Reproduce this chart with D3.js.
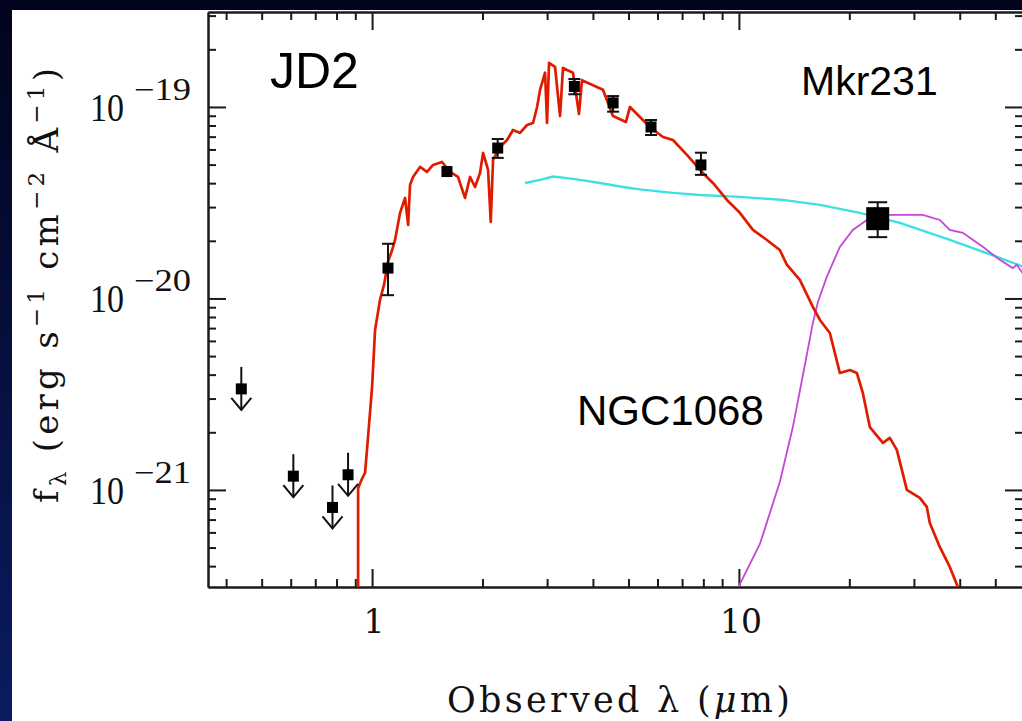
<!DOCTYPE html>
<html>
<head>
<meta charset="utf-8">
<script src="https://cdnjs.cloudflare.com/ajax/libs/d3/7.8.5/d3.min.js"></script>
<style>
body { margin: 0; background: #020826; overflow: hidden; }
</style>
</head>
<body>
<div id="placeholder"></div>
<script>
// photometry: wavelength (micron), f_lambda (erg s-1 cm-2 A-1)
var detWave = [1.105, 1.60, 2.20, 3.56, 4.54, 5.76, 7.88]
var detFlux = [1.44e-20, 4.6e-20, 6.1e-20, 1.28e-19, 1.05e-19, 7.86e-20, 4.98e-20]
var detLow = [1.04e-20, 4.6e-20, 5.42e-20, 1.165e-19, 9.45e-20, 7.14e-20, 4.42e-20]
var detHigh = [1.93e-20, 4.6e-20, 6.8e-20, 1.40e-19, 1.14e-19, 8.55e-20, 5.77e-20]

var mipsWave = [23.9]
var mipsFlux = [2.61e-20]
var mipsLow = [2.09e-20]
var mipsHigh = [3.18e-20]

var limWave = [0.44, 0.61, 0.78, 0.86]
var limFlux = [3.37e-21, 1.18e-21, 8.1e-22, 1.2e-21]

// stellar template (red)
var stellarWave = [0.916, 0.916, 0.936, 0.957, 0.975, 1.000, 1.019, 1.051, 1.078, 1.105,
    1.134, 1.155, 1.192, 1.230, 1.254, 1.269, 1.293, 1.351, 1.412, 1.466,
    1.551, 1.632, 1.715, 1.792, 1.849, 1.908, 1.969, 2.007, 2.071, 2.106,
    2.137, 2.233, 2.333, 2.422, 2.531, 2.645, 2.747, 2.817, 2.871, 2.962,
    2.999, 3.037, 3.153, 3.254, 3.315, 3.399, 3.529, 3.665, 3.734, 4.002,
    4.260, 4.536, 4.921, 5.047, 5.373, 5.721, 6.209, 6.610, 7.216, 7.978,
    8.495, 9.276, 10.06, 10.92, 11.92, 12.93, 13.51, 14.66, 15.91, 16.63,
    17.70, 18.85, 20.07, 20.97, 21.77, 22.75, 24.69, 25.79, 26.95, 28.70,
    31.13, 32.53, 33.15, 35.29, 37.58, 39.51, 40.52]
var stellarFlux = [2.0e-22, 1.02e-21, 1.13e-21, 1.23e-21, 1.89e-21, 3.45e-21, 6.85e-21, 9.82e-21, 1.18e-20, 1.55e-20,
    1.79e-20, 2.02e-20, 2.80e-20, 3.35e-20, 2.42e-20, 3.91e-20, 4.31e-20, 4.86e-20, 4.58e-20, 4.98e-20,
    5.16e-20, 4.58e-20, 4.31e-20, 3.35e-20, 4.31e-20, 3.82e-20, 4.52e-20, 5.75e-20, 4.69e-20, 2.51e-20,
    5.29e-20, 6.18e-20, 6.72e-20, 7.58e-20, 7.32e-20, 8.05e-20, 8.25e-20, 1.00e-19, 1.23e-19, 1.51e-19,
    8.25e-20, 1.70e-19, 1.62e-19, 8.97e-20, 1.60e-19, 1.56e-19, 1.51e-19, 9.19e-20, 1.38e-19, 1.30e-19,
    1.23e-19, 8.97e-20, 8.35e-20, 1.00e-19, 8.87e-20, 7.86e-20, 6.97e-20, 6.72e-20, 5.62e-20, 4.52e-20,
    4.01e-20, 3.27e-20, 2.80e-20, 2.28e-20, 2.02e-20, 1.79e-20, 1.50e-20, 1.25e-20, 9.03e-21, 7.72e-21,
    6.60e-21, 4.08e-21, 4.23e-21, 4.08e-21, 3.21e-21, 2.13e-21, 1.76e-21, 1.87e-21, 1.62e-21, 1.00e-21,
    9.08e-22, 8.15e-22, 6.72e-22, 5.04e-22, 3.96e-22, 3.12e-22, 2.67e-22]

// Mkr231 template (cyan)
var mrkWave = [2.612, 2.871, 3.112, 3.357, 3.689, 4.181, 4.830, 5.373, 6.610, 7.829, 10.06, 13.18, 16.63, 21.36, 27.47, 37.58, 51.42, 59.79]
var mrkFlux = [4.01e-20, 4.16e-20, 4.33e-20, 4.26e-20, 4.16e-20, 4.01e-20, 3.82e-20, 3.71e-20, 3.56e-20, 3.47e-20, 3.39e-20, 3.27e-20, 3.08e-20, 2.80e-20, 2.48e-20, 2.02e-20, 1.63e-20, 1.46e-20]

// NGC1068 template (magenta)
var ngcWave = [9.813, 9.98, 11.41, 12.93, 14.03, 15.13, 15.91, 16.42, 17.37, 18.85, 20.44, 22.33, 23.90, 25.79, 31.72, 35.29, 37.58, 40.78, 46.23, 51.42, 55.80, 57.22, 59.79]
var ngcFlux = [2.67e-22, 3.12e-22, 5.22e-22, 1.10e-21, 2.13e-21, 4.49e-21, 7.45e-21, 9.59e-21, 1.30e-20, 1.86e-20, 2.28e-20, 2.57e-20, 2.70e-20, 2.73e-20, 2.73e-20, 2.57e-20, 2.28e-20, 2.20e-20, 1.86e-20, 1.59e-20, 1.44e-20, 1.50e-20, 1.33e-20]

var xMajor = [1, 10]
var xMajorLabels = ["1", "10"]
var xMinor = [0.4, 0.5, 0.6, 0.7, 0.8, 0.9, 2, 3, 4, 5, 6, 7, 8, 9, 20, 30, 40, 50]
var yMajor = [1e-21, 1e-20, 1e-19]
var yMajorExp = ["\u221221", "\u221220", "\u221219"]
var yMinor = [4e-22, 5e-22, 6e-22, 7e-22, 8e-22, 9e-22,
    2e-21, 3e-21, 4e-21, 5e-21, 6e-21, 7e-21, 8e-21, 9e-21,
    2e-20, 3e-20, 4e-20, 5e-20, 6e-20, 7e-20, 8e-20, 9e-20,
    2e-19, 3e-19]

var W = 1022, H = 721
var pLeft = 208, pRight = 1023, pTop = 12, pBottom = 587

var svg = d3.select("#placeholder")
    .append("svg")
    .attr("width", W)
    .attr("height", H)
    .style("display", "block")

var defs = svg.append("defs")
var grad = defs.append("linearGradient").attr("id", "bg").attr("x1", 0).attr("y1", 0).attr("x2", 0).attr("y2", 1)
grad.append("stop").attr("offset", "0%").attr("stop-color", "#01041c")
grad.append("stop").attr("offset", "100%").attr("stop-color", "#0b1b60")
defs.append("clipPath").attr("id", "plotclip")
    .append("rect").attr("x", pLeft).attr("y", pTop).attr("width", pRight - pLeft).attr("height", pBottom - pTop)

svg.append("rect").attr("width", W).attr("height", H).attr("fill", "url(#bg)")
svg.append("rect").attr("x", 12).attr("y", 10).attr("width", W - 12).attr("height", H - 10).attr("fill", "white")

var x = d3.scaleLog().domain([0.357, 59.5]).range([pLeft, pRight])
var y = d3.scaleLog().domain([3.112e-22, 3.133e-19]).range([pBottom, pTop])

// axes: ticks point inward on all four sides
function styleAxis(g) {
    g.selectAll("line").attr("stroke", "#1a1a1a").attr("stroke-width", 2)
    g.selectAll("path").attr("stroke", "#1a1a1a").attr("stroke-width", 2)
    g.selectAll("text").remove()
}
var axes = [
    [d3.axisBottom(x), "translate(0," + pBottom + ")", xMajor, xMinor],
    [d3.axisTop(x), "translate(0," + pTop + ")", xMajor, xMinor],
    [d3.axisLeft(y), "translate(" + pLeft + ",0)", yMajor, yMinor],
    [d3.axisRight(y), "translate(" + pRight + ",0)", yMajor, yMinor]
]
axes.forEach(function (a) {
    svg.append("g").attr("transform", a[1])
        .call(a[0].tickValues(a[2]).tickSizeInner(-18).tickSizeOuter(0).tickFormat(""))
        .call(styleAxis)
    svg.append("g").attr("transform", a[1])
        .call(a[0].tickValues(a[3]).tickSizeInner(-8).tickSizeOuter(0).tickFormat(""))
        .call(styleAxis)
})

// tick labels
svg.selectAll()
    .data(xMajor)
    .enter()
    .append("text")
    .attr("x", function (d) { return x(d) + 2 })
    .attr("y", 633)
    .attr("text-anchor", "middle")
    .attr("font-family", "DejaVu Serif")
    .attr("font-size", "33px")
    .attr("fill", "#111")
    .text(function (d, i) { return xMajorLabels[i] })

svg.selectAll()
    .data(yMajor)
    .enter()
    .append("text")
    .attr("x", 90)
    .attr("y", function (d) { return y(d) + 14 })
    .attr("font-family", "Liberation Serif")
    .attr("font-size", "39px")
    .attr("textLength", 34)
    .attr("lengthAdjust", "spacingAndGlyphs")
    .attr("fill", "#111")
    .text("10")

svg.selectAll()
    .data(yMajor)
    .enter()
    .append("text")
    .attr("x", 134)
    .attr("y", function (d) { return y(d) - 7 })
    .attr("font-family", "Liberation Serif")
    .attr("font-size", "31px")
    .attr("textLength", 57)
    .attr("lengthAdjust", "spacingAndGlyphs")
    .attr("fill", "#111")
    .text(function (d, i) { return yMajorExp[i] })

// axis titles
var xt = svg.append("text")
    .attr("x", 447)
    .attr("y", 712)
    .attr("font-family", "DejaVu Serif")
    .attr("font-size", "35px")
    .attr("fill", "#111")
    .attr("textLength", 343)
    .attr("lengthAdjust", "spacing")
xt.append("tspan").text("Observed \u03bb (")
xt.append("tspan").attr("font-style", "italic").text("\u03bc")
xt.append("tspan").text("m)")

var yt = svg.append("text")
    .attr("transform", "translate(58,503) rotate(-90)")
    .attr("font-family", "DejaVu Serif")
    .attr("font-size", "34px")
    .attr("fill", "#111")
    .attr("textLength", 435)
    .attr("lengthAdjust", "spacing")
yt.append("tspan").text("f")
yt.append("tspan").attr("font-size", "23px").attr("dy", 8).text("\u03bb")
yt.append("tspan").attr("dy", -8).text(" (erg s")
yt.append("tspan").attr("font-size", "23px").attr("dy", -14).text("\u22121")
yt.append("tspan").attr("dy", 14).text(" cm")
yt.append("tspan").attr("font-size", "23px").attr("dy", -14).text("\u22122")
yt.append("tspan").attr("dy", 14).text(" \u00c5")
yt.append("tspan").attr("font-size", "23px").attr("dy", -14).text("\u22121")
yt.append("tspan").attr("dy", 14).text(")")

// model curves
var line = d3.line()
    .x(function (d) { return x(d[0]) })
    .y(function (d) { return y(d[1]) })

var curves = svg.append("g").attr("clip-path", "url(#plotclip)")
curves.append("path")
    .attr("d", line(d3.zip(mrkWave, mrkFlux)))
    .attr("fill", "none").attr("stroke", "#3fe0e2").attr("stroke-width", 2.4)
curves.append("path")
    .attr("d", line(d3.zip(ngcWave, ngcFlux)))
    .attr("fill", "none").attr("stroke", "#c447d6").attr("stroke-width", 1.8)
curves.append("path")
    .attr("d", line(d3.zip(stellarWave, stellarFlux)))
    .attr("fill", "none").attr("stroke", "#e01c00").attr("stroke-width", 2.7)
    .attr("stroke-linejoin", "round")

// detections with error bars
function drawPoints(wave, flux, lo, hi, size, cap) {
    var g = svg.append("g")
    wave.forEach(function (w, i) {
        var cx = x(w)
        if (hi[i] > lo[i]) {
            g.append("line").attr("x1", cx).attr("x2", cx).attr("y1", y(hi[i])).attr("y2", y(lo[i]))
                .attr("stroke", "#111").attr("stroke-width", 2)
            g.append("line").attr("x1", cx - cap / 2).attr("x2", cx + cap / 2).attr("y1", y(hi[i])).attr("y2", y(hi[i]))
                .attr("stroke", "#111").attr("stroke-width", 2)
            g.append("line").attr("x1", cx - cap / 2).attr("x2", cx + cap / 2).attr("y1", y(lo[i])).attr("y2", y(lo[i]))
                .attr("stroke", "#111").attr("stroke-width", 2)
        }
        g.append("rect").attr("x", cx - size / 2).attr("y", y(flux[i]) - size / 2)
            .attr("width", size).attr("height", size).attr("fill", "#000")
    })
}
drawPoints(detWave, detFlux, detLow, detHigh, 11, 12)
drawPoints(mipsWave, mipsFlux, mipsLow, mipsHigh, 23, 19)

// upper limits
var lims = svg.selectAll()
    .data(d3.zip(limWave, limFlux))
    .enter()
    .append("g")
    .attr("transform", function (d) { return "translate(" + x(d[0]) + "," + y(d[1]) + ")" })
lims.append("line").attr("x1", 0).attr("x2", 0).attr("y1", -22).attr("y2", 21)
    .attr("stroke", "#111").attr("stroke-width", 2)
lims.append("path").attr("d", "M-10,9L0,21L10,9")
    .attr("fill", "none").attr("stroke", "#111").attr("stroke-width", 2)
lims.append("rect").attr("x", -5.5).attr("y", -5.5).attr("width", 11).attr("height", 11).attr("fill", "#000")

// labels
var labels = [["JD2", 270, 88, 50], ["Mkr231", 801, 95, 41], ["NGC1068", 577, 425, 42]]
svg.selectAll()
    .data(labels)
    .enter()
    .append("text")
    .attr("x", function (d) { return d[1] })
    .attr("y", function (d) { return d[2] })
    .attr("font-family", "Liberation Sans")
    .attr("font-size", function (d) { return d[3] + "px" })
    .attr("fill", "#000")
    .text(function (d) { return d[0] })
</script>
</body>
</html>
